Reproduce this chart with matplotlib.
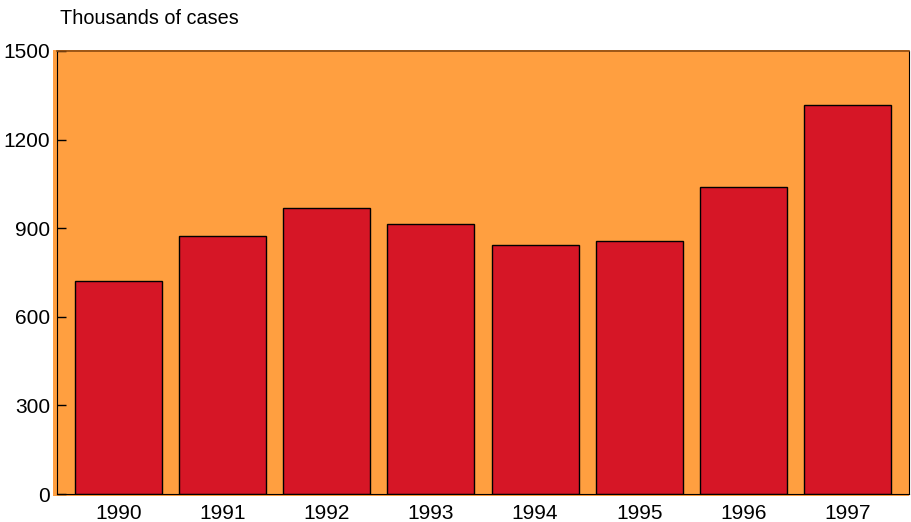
import matplotlib
matplotlib.use("Agg")
import matplotlib.pyplot as plt
from matplotlib.patches import Rectangle

# chart data
years = ["1990", "1991", "1992", "1993", "1994", "1995", "1996", "1997"]
cases = [721, 874, 969, 915, 843, 857, 1041, 1316]
y_ticks = [0, 300, 600, 900, 1200, 1500]

ORANGE = "#FF9F40"
RED = "#D61626"

plt.rcParams["font.family"] = ["Liberation Sans", "DejaVu Sans"]

fig = plt.figure(figsize=(9.11, 5.22), dpi=100)
W, H = 911, 522
# orange backdrop is a touch wider than the frame
fig.patches.append(Rectangle((53 / W, 1 - 496 / H), (909 - 53) / W, (496 - 50) / H,
                             transform=fig.transFigure, facecolor=ORANGE,
                             edgecolor="none", zorder=-5))
ax = fig.add_axes([57 / W, 1 - 494 / H, (909 - 57) / W, (494 - 51) / H])
ax.set_facecolor(ORANGE)

x = range(len(years))
ax.bar(x, cases, width=0.835, color=RED, edgecolor="black", linewidth=1.0, zorder=2)

ax.set_xlim(-0.59, 7.59)
ax.set_ylim(0, 1500)
ax.set_xticks(list(x))
ax.set_xticklabels(years, fontsize=15)
ax.set_yticks(y_ticks)
ax.set_yticklabels([str(v) for v in y_ticks], fontsize=15)
ax.tick_params(axis="y", direction="in", length=6.5, width=1, pad=5)
ax.tick_params(axis="x", length=0, pad=7)

for side in ["left", "right", "bottom"]:
    ax.spines[side].set_color("black")
ax.spines["top"].set_color("#8B4A10")
ax.spines["top"].set_linewidth(1.2)

fig.text(60 / W, 1 - 19 / H, "Thousands of cases", fontsize=14.3, va="center", ha="left")

fig.savefig("out.png", dpi=100)
